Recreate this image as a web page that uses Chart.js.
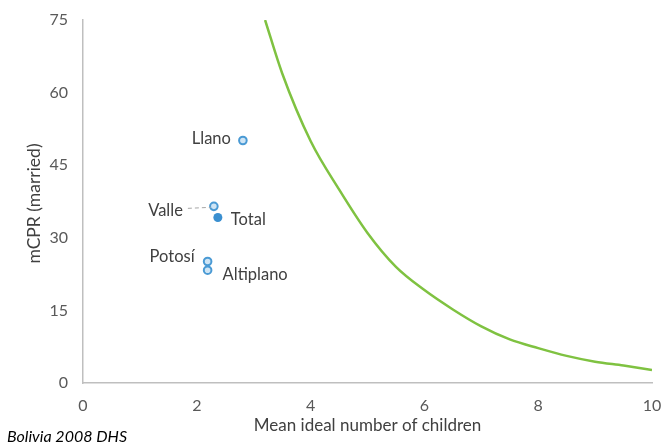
<!DOCTYPE html>
<html>
<head>
<meta charset="utf-8">
<script src="https://cdn.jsdelivr.net/npm/chart.js@4.4.1/dist/chart.umd.min.js"></script>
<style>
  html, body { margin: 0; padding: 0; background: #fff; }
  #wrap { width: 662px; height: 444px; position: relative; }
</style>
</head>
<body>
<div id="wrap"><canvas id="chart" width="662" height="444"></canvas></div>
<script>
// region points
const regions = ['Llano', 'Valle', 'Total', 'Potosí', 'Altiplano']
const idealKids = [2.81, 2.30, 2.37, 2.19, 2.19]
const mcpr = [50.1, 36.5, 34.2, 25.1, 23.3]

// green reference curve
const curveX = [3.2, 3.5, 4, 4.5, 5, 5.5, 6, 6.5, 7, 7.5, 8, 8.5, 9, 9.5, 10]
const curveY = [75, 64, 50, 40, 31, 24, 19.2, 15.2, 11.7, 9.0, 7.2, 5.6, 4.4, 3.6, 2.7]

const xTicks = [0, 2, 4, 6, 8, 10]
const yTicks = [0, 15, 30, 45, 60, 75]

const FONT = 'Lato, "Open Sans", sans-serif'
const TXT = '#404040'

// label placement relative to each marker (px), not data
const labelPos = {
    'Llano': { dx: -12, dy: -2, align: 'right' },
    'Valle': { dx: -31, dy: 4, align: 'right', leader: true },
    'Total': { dx: 13, dy: 2, align: 'left' },
    'Potosí': { dx: -13, dy: -5, align: 'right' },
    'Altiplano': { dx: 15, dy: 4, align: 'left' }
}

const pointLabels = {
    id: 'pointLabels',
    afterDatasetsDraw(chart) {
        const ctx = chart.ctx
        const xs = chart.scales.x
        const ys = chart.scales.y
        ctx.save()
        ctx.font = '16.5px ' + FONT
        ctx.fillStyle = TXT
        ctx.textBaseline = 'middle'
        regions.forEach((name, i) => {
            const px = xs.getPixelForValue(idealKids[i])
            const py = ys.getPixelForValue(mcpr[i])
            const p = labelPos[name]
            ctx.textAlign = p.align
            ctx.fillText(name, px + p.dx, py + p.dy)
            if (p.leader) {
                ctx.strokeStyle = '#a6a6a6'
                ctx.lineWidth = 1
                ctx.setLineDash([4, 3])
                ctx.beginPath()
                ctx.moveTo(px + p.dx + 5, py + 2)
                ctx.lineTo(px - 3, py + 1)
                ctx.stroke()
                ctx.setLineDash([])
            }
        })
        // source note
        ctx.font = 'italic 16px ' + FONT
        ctx.fillStyle = '#000'
        ctx.textAlign = 'left'
        ctx.fillText('Bolivia 2008 DHS', 7, 437)
        // axis titles
        ctx.font = '17px ' + FONT
        ctx.fillStyle = TXT
        ctx.textAlign = 'center'
        ctx.fillText('Mean ideal number of children', (xs.left + xs.right) / 2, 426)
        ctx.translate(34, (ys.top + ys.bottom) / 2 + 2)
        ctx.rotate(-Math.PI / 2)
        ctx.font = '17.5px ' + FONT
        ctx.fillText('mCPR (married)', 0, 0)
        ctx.restore()
    }
}

new Chart(document.getElementById('chart'), {
    type: 'scatter',
    data: {
        datasets: [
            {
                label: 'curve',
                data: curveX.map((x, i) => ({ x: x, y: curveY[i] })),
                showLine: true,
                borderColor: '#7fc241',
                borderWidth: 2.5,
                pointRadius: 0,
                cubicInterpolationMode: 'monotone',
                fill: false
            },
            {
                label: 'regions',
                data: idealKids.map((x, i) => ({ x: x, y: mcpr[i] })),
                pointRadius: regions.map(r => r === 'Total' ? 4.5 : 3.8),
                pointBorderWidth: regions.map(r => r === 'Total' ? 0 : 2),
                pointBorderColor: '#4a9ad4',
                pointBackgroundColor: regions.map(r => r === 'Total' ? '#3a8fd0' : '#cfe5f5')
            }
        ]
    },
    options: {
        responsive: false,
        animation: false,
        events: [],
        layout: { padding: { left: 0, right: 10, top: 20, bottom: 0 } },
        plugins: { legend: { display: false }, tooltip: { enabled: false } },
        scales: {
            x: {
                type: 'linear',
                min: 0,
                max: 10,
                afterBuildTicks: s => { s.ticks = xTicks.map(v => ({ value: v })) },
                afterFit: s => { s.height = 61; s.paddingLeft = 0; s.paddingRight = 0 },
                grid: { display: false, drawTicks: false },
                border: { display: true, color: '#bfbfbf', width: 1.5 },
                ticks: { color: '#595959', font: { size: 16, family: FONT }, padding: 13, maxRotation: 0 }
            },
            y: {
                type: 'linear',
                min: 0,
                max: 75,
                afterBuildTicks: s => { s.ticks = yTicks.map(v => ({ value: v })) },
                afterFit: s => { s.width = 83; s.paddingTop = 0; s.paddingBottom = 0 },
                grid: { display: false, drawTicks: false },
                border: { display: true, color: '#bfbfbf', width: 1.5 },
                ticks: { color: '#595959', font: { size: 16, family: FONT }, padding: 15 }
            }
        }
    },
    plugins: [pointLabels]
})
</script>
</body>
</html>
